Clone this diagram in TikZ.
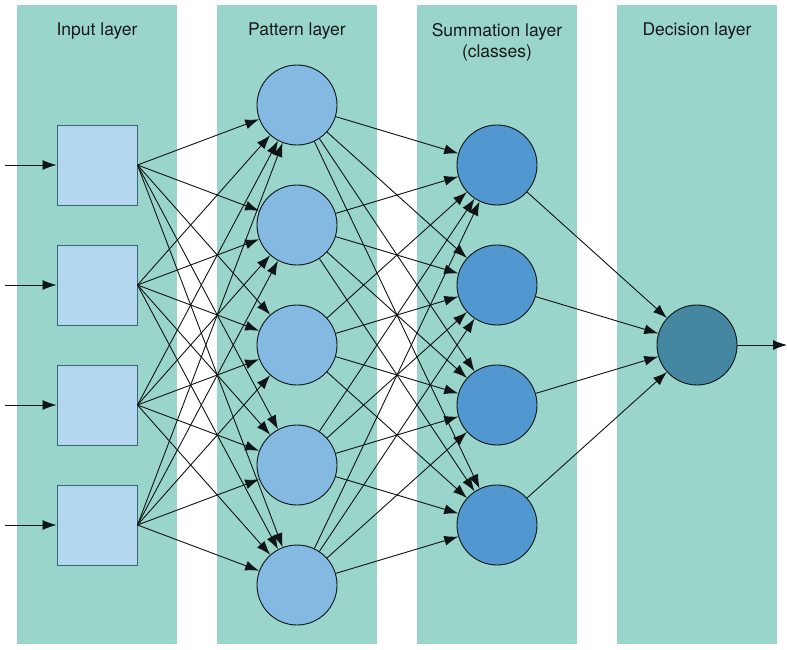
\documentclass[tikz,border=0pt]{standalone}
\usepackage{fontspec}
\setmainfont{TeX Gyre Heros}
\usetikzlibrary{arrows.meta}
\definecolor{bgteal}{RGB}{153,213,203}
\definecolor{boxfill}{RGB}{179,215,238}
\definecolor{boxline}{RGB}{60,100,125}
\definecolor{patfill}{RGB}{132,185,226}
\definecolor{sumfill}{RGB}{82,152,208}
\definecolor{decfill}{RGB}{69,134,160}
\definecolor{edge}{RGB}{17,20,20}
\tikzset{
  column/.style={fill=bgteal, draw=none},
  inbox/.style={draw=boxline, line width=1pt, fill=boxfill, minimum size=80pt, inner sep=0pt, shape=rectangle},
  neuron/.style={circle, draw=edge, line width=0.9pt, minimum size=80pt, inner sep=0pt},
  patnode/.style={neuron, fill=patfill},
  sumnode/.style={neuron, fill=sumfill},
  decnode/.style={neuron, fill=decfill},
  conn/.style={draw=edge, line width=0.9pt, -{Latex[length=14pt,width=10pt]}},
  title/.style={font=\fontsize{17.5}{21}\selectfont, text=black!90, align=center, anchor=north, inner sep=0pt}
}
\begin{document}
\begin{tikzpicture}[x=1pt,y=-1pt]
\useasboundingbox (0,0) rectangle (787,649);
\fill[white] (0,0) rectangle (787,649);
% columns
\foreach \cx in {17,217,417,617}{
  \path[column] (\cx,5) rectangle ++(160,639);
}
% titles
\node[title] (t1) at (97,23) {Input layer};
\node[title] (t2) at (297,23) {Pattern layer};
\node[title] (t3) at (497,23) {Summation layer\\(classes)};
\node[title] (t4) at (697,23) {Decision layer};
% input boxes
\foreach \i/\y in {1/165,2/285,3/405,4/525}{
  \node[inbox] (in\i) at (97,\y) {};
  \coordinate (src\i) at (5,\y);
}
% pattern nodes
\foreach \i/\y in {1/105,2/225,3/345,4/465,5/585}{
  \node[patnode] (p\i) at (297,\y) {};
}
% summation nodes
\foreach \i/\y in {1/165,2/285,3/405,4/525}{
  \node[sumnode] (s\i) at (497,\y) {};
}
% decision node
\node[decnode] (d) at (697,345) {};
\coordinate (out) at (787,345);
% input arrows
\foreach \i in {1,...,4}{
  \draw[conn] (src\i) -- (in\i.west);
}
% input -> pattern
\foreach \i in {1,...,4}{
  \foreach \j in {1,...,5}{
    \draw[conn] (in\i.east) -- (p\j);
  }
}
% pattern -> summation
\foreach \j in {1,...,5}{
  \foreach \k in {1,...,4}{
    \draw[conn] (p\j) -- (s\k);
  }
}
% summation -> decision
\foreach \k in {1,...,4}{
  \draw[conn] (s\k) -- (d);
}
\draw[conn] (d) -- (out);
\end{tikzpicture}
\end{document}
